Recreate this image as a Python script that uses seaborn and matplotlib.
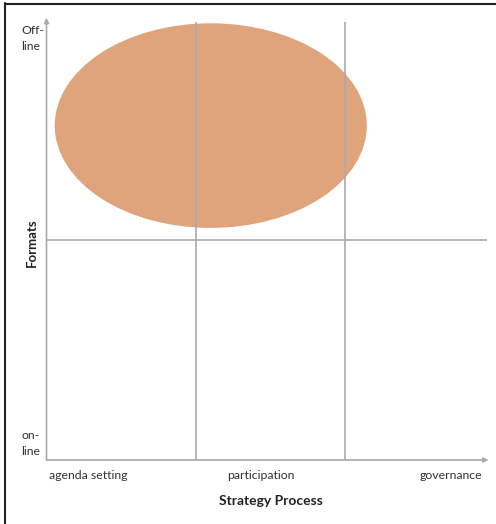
import matplotlib
matplotlib.use("Agg")
import matplotlib.pyplot as plt
from matplotlib.patches import Ellipse
import seaborn as sns

sns.set_theme(style="white")
plt.rcParams['font.family'] = ['Lato', 'DejaVu Sans']

# data
x_categories = ["agenda setting", "participation", "governance"]
x_label_pos = [0.278, 1.437, 2.71]
y_categories = ["on-\nline", "Off-\nline"]
y_label_pos = [0.09, 1.93]
x_dividers = [1.0, 2.0]
y_dividers = [1.0]
ellipse_center = (1.10, 1.52)
ellipse_size = (2.09, 0.93)
xlabel = "Strategy Process"
ylabel = "Formats"

grey = "#A9A9AE"
fill = "#E0A47D"

fig = plt.figure(figsize=(4.96, 5.24), dpi=100)
W, H = 496, 524
x0, x1, y0, y1 = 46.5, 494.5, 460, 20
ax = fig.add_axes([x0 / W, 1 - y0 / H, (x1 - x0) / W, (y0 - y1) / H])
ax.set_xlim(0, 3.0)
ax.set_ylim(0, 2.0)
for s in ax.spines.values():
    s.set_visible(False)

# ellipse
ax.add_patch(Ellipse(ellipse_center, ellipse_size[0], ellipse_size[1],
                     facecolor=fill, edgecolor="none", zorder=1))

# divider lines
for xv in x_dividers:
    ax.plot([xv, xv], [-0.01, 1.99], color=grey, lw=1.2, zorder=2,
            solid_capstyle="butt")
for yv in y_dividers:
    ax.plot([0, 2.95], [yv, yv], color=grey, lw=1.2, zorder=2,
            solid_capstyle="butt")

# axes arrows
ax.annotate("", xy=(2.96, 0), xytext=(0, 0),
            arrowprops=dict(arrowstyle="-|>", color=grey, lw=1.2,
                            mutation_scale=7, shrinkA=0, shrinkB=0),
            annotation_clip=False)
ax.annotate("", xy=(0, 2.01), xytext=(0, 0),
            arrowprops=dict(arrowstyle="-|>", color=grey, lw=1.2,
                            mutation_scale=7, shrinkA=0, shrinkB=0),
            annotation_clip=False)

ax.set_xticks(x_label_pos)
ax.set_xticklabels(x_categories, fontsize=8.8, color="#333333")
ax.set_yticks(y_label_pos)
ax.set_yticklabels(y_categories, fontsize=8.8, color="#333333",
                   ha="left", linespacing=1.5)
ax.tick_params(axis="x", length=0, pad=7)
ax.tick_params(axis="y", length=0, pad=18)
ax.set_xlabel(xlabel, fontsize=10, fontweight="bold", color="#222222", labelpad=10.5)
ax.set_ylabel(ylabel, fontsize=9.5, fontweight="bold", color="#222222")
ax.yaxis.label.set_va("center")
ax.yaxis.set_label_coords(-15 / (x1 - x0), 0.495)

# frame (left and top edges visible)
fig.add_artist(plt.Line2D([5 / W, 5 / W], [0, 1 - 3 / H], color="#222222", lw=1.5,
                          transform=fig.transFigure))
fig.add_artist(plt.Line2D([5 / W, 1], [1 - 3.5 / H, 1 - 3.5 / H], color="#222222", lw=1.5,
                          transform=fig.transFigure))

fig.savefig("out.png", dpi=100)
